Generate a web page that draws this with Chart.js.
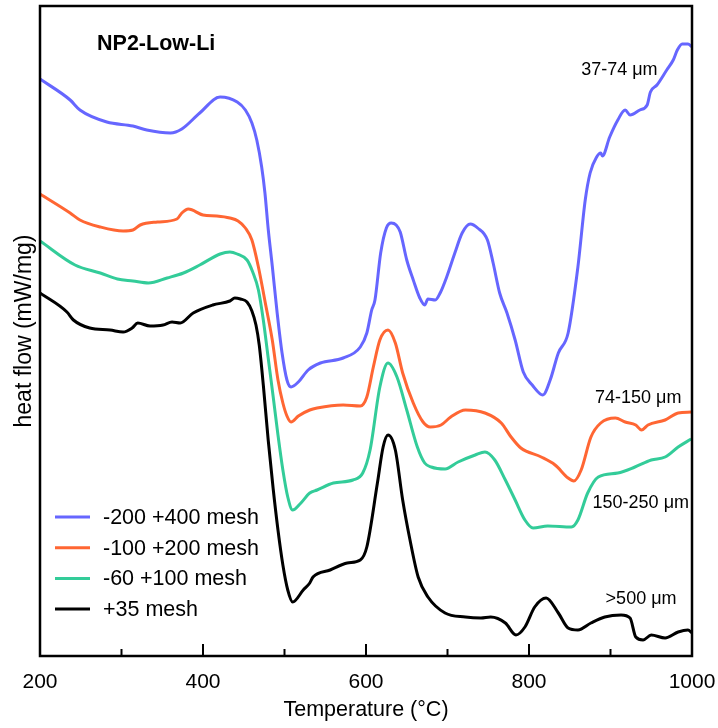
<!DOCTYPE html>
<html lang="en">
  <head>
    <meta charset="UTF-8" />
    <title>NP2-Low-Li heat flow</title>
    <script src="https://cdn.jsdelivr.net/npm/chart.js"></script>
    <style>
      html, body {
        margin: 0;
        padding: 0;
        background: #ffffff;
      }
      canvas {
        display: block;
      }
    </style>
  </head>
  <body>
    <canvas id="chartCanvas" width="718" height="728"></canvas>

    <script>
      // temperature (°C) and heat flow (arbitrary offset units)
      const tBlue = [200,237,249,282,314,331,360,374,396,421,442,452,460,466,472,476,480,485,491,497,503,508,517,529,544,572,593,601,607,611,618,625,631,637,642,650,658,666,672,676,685,691,699,709,718,728,737,749,756,764,773,783,793,804,817,826,836,848,860,869,875,883,888,890,899,909,918,924,936,945,949,957,969,977,982,988,995,1000];
      const hfBlue = [577,556,546,534,530,526,523,527,543,559,554,546,533,516,489,463,427,390,343,303,276,269,274,286,293,298,309,323,346,356,403,428,433,431,424,396,376,358,351,357,356,363,379,403,423,432,428,416,393,363,343,316,284,271,261,276,303,323,389,456,483,499,503,500,519,536,546,541,546,551,564,571,586,596,606,612,612,609];

      const tOrange = [200,237,249,274,302,314,323,344,368,374,382,400,417,433,443,452,460,468,476,485,492,498,503,508,517,531,540,572,593,601,609,617,627,636,645,658,670,679,692,704,722,746,766,778,790,815,832,848,855,864,876,888,906,918,931,938,946,967,983,999];
      const hfOrange = [462,443,436,429,425,426,431,434,437,443,447,441,440,438,435,428,416,389,355,316,276,253,240,234,240,246,248,251,250,259,289,316,326,313,283,253,234,229,231,239,246,243,233,219,208,199,191,178,175,186,219,233,238,234,231,226,231,236,243,244];

      const tGreen = [200,243,274,295,314,333,356,376,396,421,433,442,454,461,468,474,480,486,492,498,504,510,519,531,540,560,584,596,605,617,627,638,650,663,672,680,697,713,734,746,758,771,783,795,805,823,852,860,872,885,909,930,950,967,983,999];
      const hfGreen = [415,391,383,377,375,373,378,383,391,402,404,402,396,384,366,336,298,260,221,186,159,146,152,163,166,173,176,183,206,269,293,279,246,209,193,189,187,194,201,204,196,176,156,136,128,130,129,136,163,179,183,189,196,199,209,217];

      const tBlack = [200,233,241,261,286,302,313,320,335,351,362,372,388,412,433,439,446,454,460,465,469,474,480,486,492,498,504,510,523,531,535,556,577,593,601,614,621,627,636,645,654,664,676,697,722,741,753,771,784,795,807,821,836,848,860,876,893,913,924,931,940,950,967,983,995,1000];
      const hfBlack = [363,344,336,328,326,324,328,333,330,331,334,333,343,351,355,358,357,354,345,331,311,271,216,168,126,91,66,54,66,73,79,86,93,96,109,173,209,221,206,156,116,79,59,43,39,38,39,33,21,29,49,58,43,28,26,33,39,41,38,19,16,21,18,24,26,23];

      const legendLabels = ["-200 +400 mesh", "-100 +200 mesh", "-60 +100 mesh", "+35 mesh"];
      const sizeLabels = ["37-74 μm", "74-150 μm", "150-250 μm", ">500 μm"];
      const plotTitle = "NP2-Low-Li";
      const colors = ["#6666ff", "#ff6633", "#33cc99", "#000000"];

      const FONT = "'Liberation Sans', Arial, sans-serif";

      function toPoints(xs, ys) {
        return xs.map((x, i) => ({ x: x, y: ys[i] }));
      }

      const series = [
        [tBlue, hfBlue],
        [tOrange, hfOrange],
        [tGreen, hfGreen],
        [tBlack, hfBlack],
      ];

      // frame, inward ticks, title, size labels and legend
      const decorations = {
        id: "decorations",
        afterDatasetsDraw(chart) {
          const { ctx, chartArea: a, scales } = chart;
          const x = scales.x;
          const y = scales.y;
          ctx.save();

          ctx.strokeStyle = "#000";
          ctx.lineWidth = 2.5;
          ctx.strokeRect(a.left, a.top, a.right - a.left, a.bottom - a.top);

          ctx.lineWidth = 2;
          for (let t = 200; t <= 1000; t += 100) {
            const px = x.getPixelForValue(t);
            const len = t % 200 === 0 ? 12 : 7;
            ctx.beginPath();
            ctx.moveTo(px, a.bottom);
            ctx.lineTo(px, a.bottom - len);
            ctx.stroke();
          }

          ctx.fillStyle = "#000";
          ctx.textBaseline = "alphabetic";
          ctx.textAlign = "left";
          ctx.font = "bold 21.5px " + FONT;
          ctx.fillText(plotTitle, x.getPixelForValue(270), y.getPixelForValue(606));

          ctx.font = "18px " + FONT;
          const labelPos = [[864, 581], [881, 253], [878, 148], [894, 52]];
          sizeLabels.forEach((s, i) => {
            ctx.fillText(s, x.getPixelForValue(labelPos[i][0]), y.getPixelForValue(labelPos[i][1]));
          });

          ctx.font = "21.5px " + FONT;
          ctx.textBaseline = "middle";
          legendLabels.forEach((s, i) => {
            const ly = a.bottom - 139 + i * 30.7;
            ctx.strokeStyle = colors[i];
            ctx.lineWidth = 3;
            ctx.beginPath();
            ctx.moveTo(a.left + 15, ly);
            ctx.lineTo(a.left + 50, ly);
            ctx.stroke();
            ctx.fillText(s, a.left + 63, ly + 1);
          });

          ctx.restore();
        },
      };

      const ctx = document.getElementById("chartCanvas").getContext("2d");
      const chart = new Chart(ctx, {
        type: "line",
        data: {
          datasets: series.map((s, i) => ({
            label: legendLabels[i],
            data: toPoints(s[0], s[1]),
            borderColor: colors[i],
            borderWidth: 3,
            pointRadius: 0,
            fill: false,
            cubicInterpolationMode: "monotone",
          })),
        },
        options: {
          responsive: false,
          animation: false,
          devicePixelRatio: 1,
          layout: {
            padding: { top: 6, right: 26, left: 0, bottom: 0 },
          },
          plugins: {
            legend: { display: false },
            tooltip: { enabled: false },
          },
          scales: {
            x: {
              type: "linear",
              min: 200,
              max: 1000,
              afterFit: (s) => {
                s.height = 72;
                s.paddingLeft = 0;
                s.paddingRight = 0;
              },
              border: { display: false },
              grid: { display: false, drawTicks: false },
              ticks: {
                stepSize: 200,
                padding: 14,
                color: "#000",
                font: { family: FONT, size: 21 },
                callback: (v) => String(v),
              },
              title: {
                display: true,
                text: "Temperature (°C)",
                color: "#000",
                font: { family: FONT, size: 21.5 },
                padding: { top: 0, bottom: 5 },
              },
            },
            y: {
              min: 0,
              max: 650,
              afterFit: (s) => { s.width = 40; },
              border: { display: false },
              grid: { display: false, drawTicks: false },
              ticks: { display: false },
              title: {
                display: true,
                text: "heat flow (mW/mg)",
                color: "#000",
                font: { family: FONT, size: 23 },
                padding: { top: 11, bottom: 0 },
              },
            },
          },
        },
        plugins: [decorations],
      });
    </script>
  </body>
</html>
